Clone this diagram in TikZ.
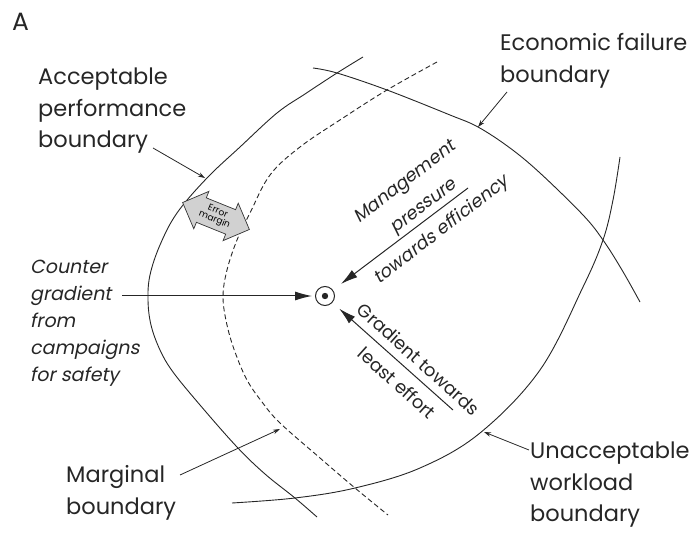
\documentclass[tikz,border=0pt]{standalone}
\usepackage{fontspec}
\setmainfont{Poppins}
\newfontfamily\obl[FakeSlant=0.2]{Poppins}
\usetikzlibrary{arrows.meta,shapes.arrows,calc}
\begin{document}
\begin{tikzpicture}[x=1pt,y=-1pt,
  curve/.style={line width=0.9pt, color=black!85},
  dashcurve/.style={line width=0.9pt, color=black!85, dash pattern=on 5pt off 3pt},
  lbl/.style={inner sep=0pt, align=left, font=\fontsize{22.5}{31.5}\selectfont, text=black!85},
  lblo/.style={inner sep=0pt, align=left, font=\obl\fontsize{19}{27}\selectfont, text=black!85},
  leader/.style={line width=0.8pt, color=black!85, -{Stealth[length=7pt,width=4.5pt]}},
  bigarrow/.style={line width=1pt, color=black!85, -{Latex[length=17pt,width=9pt]}}
]
\useasboundingbox (0,0) rectangle (694,537);

% boundaries
\draw[curve] plot[smooth, tension=0.6] coordinates {(363,57) (337,73) (305,94) (277,113) (240,147) (207,178) (177,213) (160,245) (150,275) (148,300) (151,325) (160,350) (173,372) (200,405) (237,447) (265,474) (295,498) (317,517)};
\draw[curve] plot[smooth, tension=0.6] coordinates {(313,68) (337,73) (387,90) (450,115) (478,127) (510,148) (540,173) (583,215) (603,240) (622,270) (640,302)};
\draw[curve] plot[smooth, tension=0.6] coordinates {(232,503) (295,498) (355,488) (420,468) (480,433) (540,370) (583,287) (603,240) (613,200) (620,157)};
\draw[dashcurve] plot[smooth, tension=0.6] coordinates {(437,62) (387,90) (343,118) (300,147) (270,175) (250,213) (237,240) (227,270) (223,297) (227,325) (235,352) (247,380) (262,402) (280,423) (320,458) (355,488) (388,515)};

% error margin
\node[double arrow, draw=black!80, line width=0.7pt, fill=black!18, rotate=-22,
      minimum height=72pt, double arrow head extend=7pt,
      inner xsep=1pt, inner ysep=4pt, align=center, font=\fontsize{9}{9}\selectfont] (err) at (216,216) {Error\\margin};

% centre
\node[circle, draw=black!85, line width=1pt, minimum size=19pt, inner sep=0pt] (ctr) at (325,296) {};
\fill[black!85] (ctr) circle (3.2pt);

% labels
\node[anchor=base west, inner sep=0pt, font=\fontsize{25}{25}\selectfont, text=black!85] (lA) at (12,31) {A};
\node[lbl, anchor=west] (acc) at (38,111) {Acceptable\\performance\\boundary};
\node[lbl, anchor=west] (eco) at (500,61) {Economic failure\\boundary};
\node[lblo, anchor=west] (cnt) at (30,323) {Counter\\gradient\\from\\campaigns\\for safety};
\node[lbl, anchor=west] (mar) at (66,493) {Marginal\\boundary};
\node[lbl, anchor=west] (wrk) at (530,485) {Unacceptable\\workload\\boundary};

\node[inner sep=0pt, align=center, rotate=37.6, font=\obl\fontsize{18}{30}\selectfont, text=black!85] (mgt) at (424,207) {Management\\pressure\\towards efficiency};
\node[inner sep=0pt, align=center, rotate=-42, font=\fontsize{18}{32}\selectfont, text=black!85] (grd) at (408,371) {Gradient towards\\least effort};

% leader lines
\coordinate (accS) at (153,148);
\coordinate (accT) at (205,178);
\coordinate (ecoS) at (507,92);
\coordinate (ecoT) at (478,127);
\coordinate (marS) at (180,475);
\coordinate (marT) at (280,429);
\coordinate (wrkS) at (529,450);
\coordinate (wrkT) at (484,432);
\draw[leader] (accS) -- (accT);
\draw[leader] (ecoS) -- (ecoT);
\draw[leader] (marS) -- (marT);
\draw[leader] (wrkS) -- (wrkT);

% gradient arrows
\coordinate (cntS) at (122,296);
\coordinate (mgtS) at (468,188);
\coordinate (grdS) at (453,410);
\draw[bigarrow, shorten >=3pt] (cntS) -- (ctr);
\draw[bigarrow, shorten >=10pt] (mgtS) -- (ctr);
\draw[bigarrow, shorten >=9pt] (grdS) -- (ctr);
\end{tikzpicture}
\end{document}
